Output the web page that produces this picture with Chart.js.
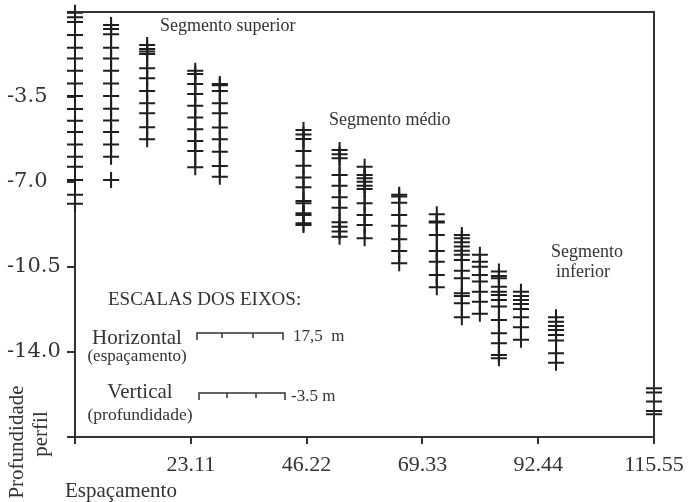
<!DOCTYPE html>
<html>
<head>
<meta charset="utf-8">
<script src="https://cdn.jsdelivr.net/npm/chart.js@4"></script>
<style>
  body { margin: 0; background: #fff; }
</style>
</head>
<body>
<canvas id="myChart" width="689" height="502"></canvas>
<script>
// espacamento (x) of each profile column
var spacing = [0, 7.2, 14.4, 24.0, 28.9, 45.6, 52.8, 57.8, 64.7, 72.2, 77.2, 80.8, 84.6, 89.0, 96.0, 115.55];

// depth readings per column (null = break in the vertical line)
var depths = [
  [-0.03, -0.22, -0.41, -0.95, -1.47, -1.91, -2.42, -2.94, -3.46, -3.99, -4.48, -4.94, -5.46, -5.96, -6.37, -6.92, -7.53, -7.9],
  [-0.54, -0.70, -0.92, -1.47, -1.91, -2.42, -2.94, -3.46, -3.98, -4.47, -4.94, -5.46, -5.96, null, -6.92],
  [-1.36, -1.52, -1.63, -1.73, -2.32, -2.73, -3.25, -3.76, -4.17, -4.75, -5.24],
  [-2.42, -2.55, -2.96, -3.38, -3.86, -4.34, -4.83, -5.31, -5.72, -6.39],
  [-2.96, -3.02, -3.25, -3.76, -4.17, -4.76, -5.24, -5.75, -6.34, -6.78],
  [-4.86, -5.04, -5.23, -5.72, -6.33, -6.81, -7.22, -7.78, -7.88, -8.29, -8.36, -8.70, -8.77],
  [-5.68, -5.86, -6.02, -6.71, -7.15, -7.63, -8.06, -8.66, -8.84, -9.04, -9.25],
  [-6.37, -6.71, -6.85, -6.99, -7.15, -7.29, -7.88, -8.36, -8.77, -9.32],
  [-7.53, -7.60, -7.85, -8.36, -8.80, -9.36, -9.84, -10.35],
  [-8.33, -8.63, -8.67, -9.18, -9.84, -10.28, -10.83, -11.33],
  [-9.18, -9.32, -9.48, -9.66, -9.83, -10.00, -10.21, -10.65, -10.96, -11.58, -11.69, -11.99, -12.57],
  [-10.00, -10.28, -10.49, -10.83, -11.10, -11.52, -11.93, -12.43],
  [-10.69, -10.87, -10.96, -11.31, -11.52, -11.65, -11.86, -12.13, -12.68, -13.23, -13.64, -14.12, -14.26],
  [-11.52, -11.69, -11.86, -12.02, -12.23, -12.57, -12.98, -13.50],
  [-12.57, -12.75, -12.93, -13.09, -13.30, -13.53, -14.05, -14.44],
  [-15.49, -15.67, -16.04, -16.43, -16.56]
];

var xTicks = [0, 23.11, 46.22, 69.33, 92.44, 115.55];
var yTicks = [0, -3.5, -7.0, -10.5, -14.0, -17.5];

var ink = '#1e1e1e';
var serif = 'Liberation Serif';

var datasets = spacing.map(function (x, i) {
  return {
    data: depths[i].map(function (d) { return { x: x, y: d }; }),
    showLine: true,
    spanGaps: false,
    borderColor: ink,
    borderWidth: 2,
    pointStyle: 'cross',
    pointRadius: 8,
    pointBorderWidth: 2,
    pointBorderColor: ink,
    clip: false
  };
});

function text(ctx, str, x, y, size, align) {
  ctx.font = size + 'px "' + serif + '"';
  ctx.textAlign = align || 'left';
  ctx.fillText(str, x, y);
}

function scaleBar(ctx, x0, x1, y, marks) {
  ctx.beginPath();
  ctx.moveTo(x0, y + 7); ctx.lineTo(x0, y); ctx.lineTo(x1, y); ctx.lineTo(x1, y + 7);
  marks.forEach(function (m) { ctx.moveTo(m, y); ctx.lineTo(m, y + 5); });
  ctx.stroke();
}

function noEdgePadding(s) {
  s.paddingTop = 0; s.paddingBottom = 0; s.paddingLeft = 0; s.paddingRight = 0;
}

var annotate = {
  id: 'annotate',
  afterDraw: function (chart) {
    var ctx = chart.ctx;
    var a = chart.chartArea;
    ctx.save();
    ctx.strokeStyle = '#333';
    ctx.lineWidth = 2;
    ctx.beginPath();
    ctx.moveTo(a.left, a.top);
    ctx.lineTo(a.right, a.top);
    ctx.lineTo(a.right, a.bottom);
    ctx.stroke();

    ctx.fillStyle = '#333';
    ctx.textBaseline = 'middle';
    text(ctx, 'Segmento superior', 160, 26, 18);
    text(ctx, 'Segmento médio', 329, 120, 18);
    text(ctx, 'Segmento', 587, 252, 18, 'center');
    text(ctx, 'inferior', 583, 272, 18, 'center');

    text(ctx, 'ESCALAS DOS EIXOS:', 108, 300, 19);
    text(ctx, 'Horizontal', 137, 338, 21, 'center');
    text(ctx, '(espaçamento)', 137, 357, 17, 'center');
    text(ctx, '17,5  m', 293, 337, 17);
    text(ctx, 'Vertical', 140, 392, 21, 'center');
    text(ctx, '(profundidade)', 140, 415, 17.5, 'center');
    text(ctx, '-3.5 m', 291, 397, 17);

    ctx.lineWidth = 1.5;
    scaleBar(ctx, 197, 283, 333, [222, 253]);
    scaleBar(ctx, 199, 285, 393, [227, 256]);

    text(ctx, 'Espaçamento', 65, 491, 21);

    ctx.save();
    ctx.translate(17, 442);
    ctx.rotate(-Math.PI / 2);
    text(ctx, 'Profundidade', 0, 0, 21, 'center');
    ctx.restore();
    ctx.save();
    ctx.translate(41, 434);
    ctx.rotate(-Math.PI / 2);
    text(ctx, 'perfil', 0, 0, 21, 'center');
    ctx.restore();

    ctx.restore();
  }
};

new Chart('myChart', {
  type: 'scatter',
  data: { datasets: datasets },
  options: {
    responsive: false,
    animation: false,
    events: [],
    layout: { padding: { top: 12, right: 35, left: 7, bottom: 0 } },
    plugins: { legend: { display: false }, tooltip: { enabled: false } },
    scales: {
      x: {
        type: 'linear',
        min: 0,
        max: 115.55,
        afterBuildTicks: function (s) { s.ticks = xTicks.map(function (v) { return { value: v }; }); },
        afterFit: function (s) { s.height = 65; noEdgePadding(s); },
        ticks: {
          autoSkip: false,
          maxRotation: 0,
          padding: 8,
          color: '#333',
          font: { family: serif, size: 22 },
          callback: function (v) { return v === 0 ? '' : v.toFixed(2); }
        },
        grid: { drawOnChartArea: false, drawTicks: true, tickLength: 7, color: '#333', lineWidth: 2 },
        border: { display: true, color: '#333', width: 2 }
      },
      y: {
        type: 'linear',
        min: -17.5,
        max: 0,
        afterBuildTicks: function (s) { s.ticks = yTicks.map(function (v) { return { value: v }; }); },
        afterFit: function (s) { s.width = 68; noEdgePadding(s); },
        ticks: {
          autoSkip: false,
          crossAlign: 'far',
          padding: 8,
          color: '#333',
          font: { family: 'DejaVu Serif', size: 21 },
          callback: function (v) { return (v === 0 || v === -17.5) ? '' : v.toFixed(1); }
        },
        grid: { drawOnChartArea: false, drawTicks: true, tickLength: 8, color: '#333', lineWidth: 2 },
        border: { display: true, color: '#333', width: 2 }
      }
    }
  },
  plugins: [annotate]
});
</script>
</body>
</html>
